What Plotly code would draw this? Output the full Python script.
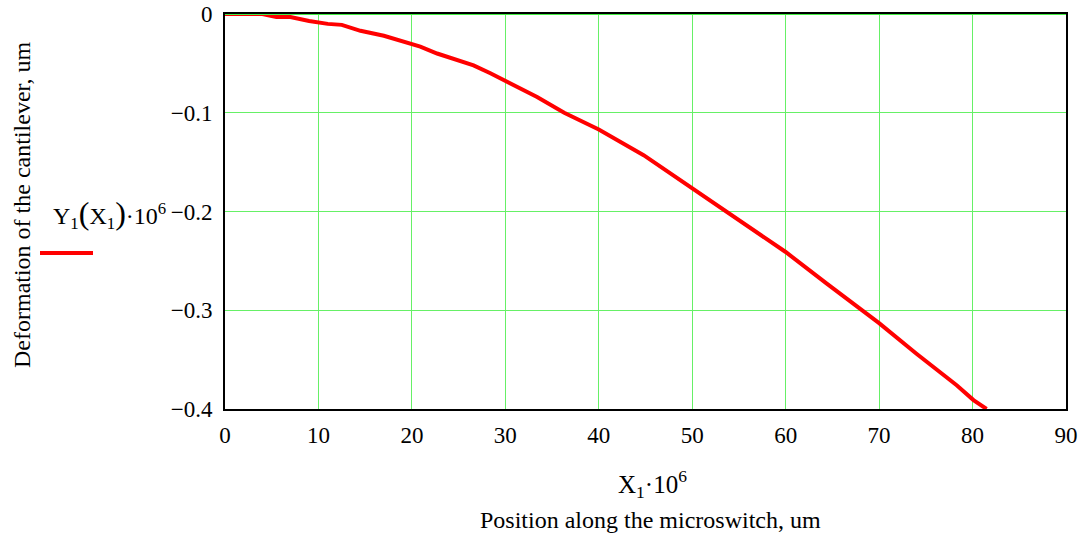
import plotly.graph_objects as go

# Cantilever deflection profile (position in um, deformation in um)
position_um = [0, 4, 5.5, 7, 9, 11, 12.5, 14.5, 17, 18.7, 20.9, 22.7, 24.5, 26.6,
               28.4, 29.8, 33.4, 36.3, 40, 44.8, 49.8, 54.4, 60, 64.4, 70, 74,
               78.3, 80.1, 81.5]
deformation_um = [0, 0, -0.003, -0.003, -0.007, -0.010, -0.011, -0.017, -0.022,
                  -0.027, -0.033, -0.040, -0.046, -0.052, -0.060, -0.067, -0.084,
                  -0.100, -0.117, -0.143, -0.175, -0.205, -0.241, -0.273, -0.313,
                  -0.344, -0.376, -0.391, -0.400]

x_ticks = [0, 10, 20, 30, 40, 50, 60, 70, 80, 90]
y_ticks = [0, -0.1, -0.2, -0.3, -0.4]
y_tick_text = ["0", "\u22120.1", "\u22120.2", "\u22120.3", "\u22120.4"]

FONT = "Liberation Serif, Times New Roman, serif"
GRID = "#66f066"
W, H = 1089, 538
ML, MR, MT, MB = 225, 23, 14, 129
PW = W - ML - MR
PH = H - MT - MB


def px_x(p):
    return (p - ML) / PW


def px_y(p):
    return 1 - (p - MT) / PH


big = '<span style="font-size:32px">{}</span>'

fig = go.Figure()
fig.add_trace(go.Scatter(
    x=position_um, y=deformation_um, mode="lines",
    line=dict(color="#ff0000", width=4),
    showlegend=False, hoverinfo="skip",
))

fig.update_layout(
    width=W, height=H,
    margin=dict(l=ML, r=MR, t=MT, b=MB, autoexpand=False),
    paper_bgcolor="white", plot_bgcolor="white",
    font=dict(family=FONT, size=23, color="black"),
    xaxis=dict(
        range=[0, 90], tickvals=x_ticks, ticktext=[str(v) for v in x_ticks],
        showgrid=True, gridcolor=GRID, gridwidth=1,
        showline=True, linecolor="black", linewidth=2, mirror=True,
        zeroline=False, ticks="", ticklabelstandoff=4, automargin=False,
        tickfont=dict(family=FONT, size=23),
    ),
    yaxis=dict(
        range=[-0.4, 0], tickvals=y_ticks, ticktext=y_tick_text,
        showgrid=True, gridcolor=GRID, gridwidth=1,
        showline=True, linecolor="black", linewidth=2, mirror=True,
        zeroline=False, ticks="", ticklabelstandoff=6, automargin=False,
        tickfont=dict(family=FONT, size=23),
    ),
    shapes=[
        # green grid line along the top edge (y = 0)
        dict(type="line", xref="paper", yref="y", x0=0, x1=1, y0=0, y1=0,
             line=dict(color="#44ee44", width=2), layer="above"),
        # legend swatch
        dict(type="line", xref="paper", yref="paper",
             x0=px_x(40), x1=px_x(93), y0=px_y(253), y1=px_y(253),
             line=dict(color="#ff0000", width=4)),
    ],
    annotations=[
        dict(text="Y<sub>1</sub>" + big.format("(") + "X<sub>1</sub>"
                  + big.format(")") + "\u00b710<sup>6</sup>",
             xref="paper", yref="paper", x=px_x(168), y=px_y(214),
             xanchor="right", yanchor="middle", showarrow=False,
             font=dict(family=FONT, size=24)),
        dict(text="Deformation of the cantilever, um",
             xref="paper", yref="paper", x=px_x(22), y=px_y(205),
             xanchor="center", yanchor="middle", textangle=-90, showarrow=False,
             font=dict(family=FONT, size=24)),
        dict(text="X<sub>1</sub>\u00b710<sup>6</sup>",
             xref="paper", yref="paper", x=px_x(652), y=px_y(484),
             xanchor="center", yanchor="middle", showarrow=False,
             font=dict(family=FONT, size=25)),
        dict(text="Position along the microswitch, um",
             xref="paper", yref="paper", x=px_x(650), y=px_y(520),
             xanchor="center", yanchor="middle", showarrow=False,
             font=dict(family=FONT, size=24)),
    ],
)

fig.write_html("out.html")
